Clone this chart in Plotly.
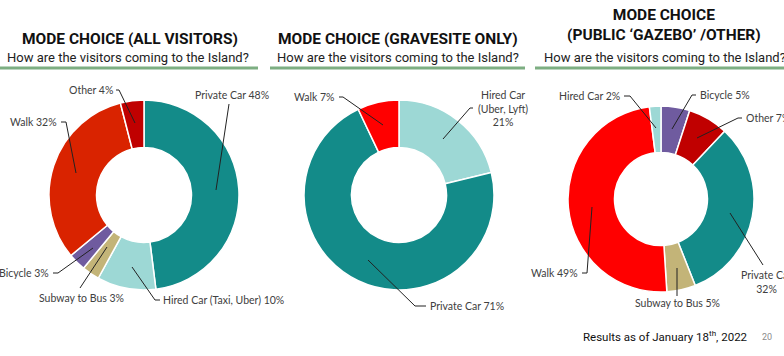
import plotly.graph_objects as go

W, H = 784, 356

# ---------------- data ----------------
all_modes = ["Private Car", "Hired Car (Taxi, Uber)", "Subway to Bus", "Bicycle", "Walk", "Other"]
all_pct = [48, 10, 3, 3, 32, 4]

grave_modes = ["Hired Car (Uber, Lyft)", "Private Car", "Walk"]
grave_pct = [21, 71, 7]

gazebo_modes = ["Bicycle", "Other", "Private Car", "Subway to Bus", "Walk", "Hired Car"]
gazebo_pct = [5, 7, 32, 5, 49, 2]

titles = ["MODE CHOICE (ALL VISITORS)", "MODE CHOICE (GRAVESITE ONLY)",
          "MODE CHOICE<br>(PUBLIC ‘GAZEBO’ /OTHER)"]
subtitle = "How are the visitors coming to the Island?"
footer = "Results as of January 18<sup>th</sup>, 2022"
page_no = "20"

# ---------------- styles ----------------
TEAL = "#138B89"
LTEAL = "#9DD8D5"
TAN = "#C3B478"
PURPLE = "#6F5B9F"
OTHER = "#C00000"
colors1 = {"Private Car": TEAL, "Hired Car (Taxi, Uber)": LTEAL, "Subway to Bus": TAN,
           "Bicycle": PURPLE, "Walk": "#D92300", "Other": OTHER}
colors2 = {"Hired Car (Uber, Lyft)": LTEAL, "Private Car": TEAL, "Walk": "#FF0000"}
colors3 = {"Bicycle": PURPLE, "Other": OTHER, "Private Car": TEAL, "Subway to Bus": TAN,
           "Walk": "#FF0000", "Hired Car": LTEAL}

LABEL_FONT = dict(family="Lato, Noto Sans, sans-serif", size=10.5, color="#404040")
TITLE_FONT = dict(family="Roboto, Arial, sans-serif", size=15.5, color="#111111")
SUB_FONT = dict(family="Roboto, Arial, sans-serif", size=13, color="#222222")


def px(x, y):
    return x / W, 1 - y / H


def dom(cx, cy, r):
    return dict(x=[(cx - r) / W, (cx + r) / W], y=[1 - (cy + r) / H, 1 - (cy - r) / H])


fig = go.Figure()
pies = [
    (all_modes, all_pct, colors1, (144, 195, 95)),
    (grave_modes, grave_pct, colors2, (399, 195, 95)),
    (gazebo_modes, gazebo_pct, colors3, (661, 199, 93)),
]
for modes, vals, cmap, (cx, cy, r) in pies:
    fig.add_trace(go.Pie(
        labels=modes, values=vals, hole=0.5, sort=False, direction="clockwise", rotation=0,
        marker=dict(colors=[cmap[m] for m in modes], line=dict(color="white", width=1.5)),
        textinfo="none", hoverinfo="label+percent", domain=dom(cx, cy, r), showlegend=False,
    ))

# label layout: (text x, text y, xanchor, leader path points, line-break form)
label_layout = [
    {  # chart 1
        "Private Car": (193, 95, "left", [(229, 104), (216, 190)], False),
        "Hired Car (Taxi, Uber)": (161, 300, "left", [(160, 300), (155, 300), (132, 267)], False),
        "Subway to Bus": (37, 298, "left", [(80, 288), (107, 247)], False),
        "Bicycle": (51, 273, "right", [(53, 273), (58, 273), (93, 248)], False),
        "Walk": (59, 122, "right", [(61, 122), (66, 122), (76, 173)], False),
        "Other": (115, 90, "right", [(116, 90), (119, 90), (135, 123)], False),
    },
    {  # chart 2
        "Hired Car (Uber, Lyft)": (503, 108, "center", [(473, 108), (470, 108), (443, 139)], True),
        "Private Car": (428, 306, "left", [(426, 306), (415, 306), (368, 260)], False),
        "Walk": (337, 97, "right", [(339, 97), (343, 97), (383, 125)], False),
    },
    {  # chart 3
        "Bicycle": (698, 95, "left", [(696, 95), (692, 95), (672, 129)], False),
        "Other": (744, 118, "left", [(742, 118), (738, 118), (697, 138)], False),
        "Private Car": (766, 282, "center", [(763, 265), (730, 213)], True),
        "Subway to Bus": (633, 303, "left", [(677, 296), (677, 268)], False),
        "Walk": (580, 273, "right", [(582, 273), (587, 273), (592, 207)], False),
        "Hired Car": (622, 96, "right", [(624, 96), (630, 96), (656, 128)], False),
    },
]

annotations = []
shapes = []
for (modes, vals, _, _), lay in zip(pies, label_layout):
    for m, v in zip(modes, vals):
        tx, ty, xa, path, brk = lay[m]
        if brk:
            name = m.replace(" (", "<br>(")
            text = f"{name}<br>{v}%"
        else:
            text = f"{m} {v}%"
        x, y = px(tx, ty)
        annotations.append(dict(x=x, y=y, xref="paper", yref="paper", text=text, showarrow=False,
                                xanchor=xa, yanchor="middle", align="center", font=LABEL_FONT))
        pts = [px(a, b) for a, b in path]
        d = "M " + " L ".join(f"{a} {b}" for a, b in pts)
        shapes.append(dict(type="path", path=d, xref="paper", yref="paper",
                           line=dict(color="#222222", width=1)))

# titles
title_pos = [(130, 39, "center"), (398, 39, "center"), (664, 25, "center")]
sub_pos = [(128, 57, "center"), (398, 57, "center"), (542, 57, "left")]
for t, (tx, ty, xa), (sx, sy, sa) in zip(titles, title_pos, sub_pos):
    x, y = px(tx, ty)
    annotations.append(dict(x=x, y=y, xref="paper", yref="paper", text=f"<b>{t}</b>", showarrow=False,
                            xanchor=xa, yanchor="middle", font=TITLE_FONT))
    x, y = px(sx, sy)
    annotations.append(dict(x=x, y=y, xref="paper", yref="paper", text=subtitle, showarrow=False,
                            xanchor=sa, yanchor="middle", font=SUB_FONT))

# green rules under the headers
for x0, x1 in [(0, 258), (270, 525), (535, 784)]:
    a0, b0 = px(x0, 68)
    a1, b1 = px(x1, 68)
    shapes.append(dict(type="line", x0=a0, x1=a1, y0=b0, y1=b1, xref="paper", yref="paper",
                       line=dict(color="#7DAE82", width=3)))

# footer
x, y = px(581, 336)
annotations.append(dict(x=x, y=y, xref="paper", yref="paper", text=footer, showarrow=False,
                        xanchor="left", yanchor="middle",
                        font=dict(family="Roboto, Arial, sans-serif", size=11.5, color="#111111")))
x, y = px(767, 337)
annotations.append(dict(x=x, y=y, xref="paper", yref="paper", text=page_no, showarrow=False,
                        xanchor="center", yanchor="middle",
                        font=dict(family="Roboto, Arial, sans-serif", size=9, color="#8C8C8C")))

fig.update_layout(width=W, height=H, margin=dict(l=0, r=0, t=0, b=0),
                  paper_bgcolor="white", plot_bgcolor="white",
                  annotations=annotations, shapes=shapes)

fig.write_html("out.html", config={"displayModeBar": False},
               post_script="document.body.style.margin='0';document.body.style.overflow='hidden';")
